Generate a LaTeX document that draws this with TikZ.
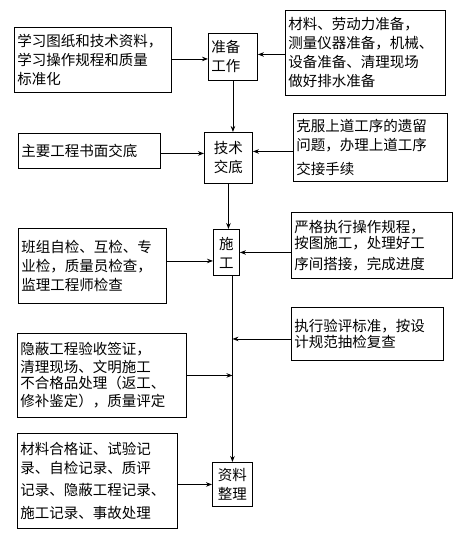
\documentclass[tikz,border=0pt]{standalone}
\usepackage{fontspec}
\newfontfamily\cjk{Noto Sans CJK SC}
\usetikzlibrary{arrows.meta}
\begin{document}
\begin{tikzpicture}[x=1pt,y=-1pt,
  box/.style={draw,line width=0.9pt,inner sep=3pt,anchor=north west,align=left,
    font=\cjk\fontsize{14.5}{19}\selectfont},
  cbox/.style={box,align=center},
  arr/.style={line width=0.9pt,-{Stealth[length=6pt,width=4.5pt]}},
  ln/.style={line width=0.9pt}]
\useasboundingbox (0,0) rectangle (462,536);
\fill[white] (0,0) rectangle (462,536);
% boxes
\node[box,text width=151pt,minimum height=65pt] (a1) at (14,27)
  {学习图纸和技术资料，\\学习操作规程和质量\\标准化};
\node[box,text width=154pt,minimum height=85pt] (r1) at (285,10)
  {材料、劳动力准备，\\测量仪器准备，机械、\\设备准备、清理现场\\做好排水准备};
\node[box,text width=43pt,minimum height=47pt] (prep) at (208,33)
  {准备\\工作};
\node[box,text width=136pt,minimum height=35pt] (l2) at (18,133)
  {主要工程书面交底\\[6pt]};
\node[cbox,text width=42pt,minimum height=51pt] (tech) at (204,132)
  {技术\\交底};
\node[box,text width=148pt,minimum height=68pt] (r2) at (293,113)
  {克服上道工序的遗留\\问题，办理上道工序\\[5pt]交接手续};
\node[box,text width=142pt,minimum height=75pt] (l3) at (18,228)
  {班组自检、互检、专\\业检，质量员检查，\\监理工程师检查};
\node[cbox,text width=20pt,minimum height=46pt] (shi) at (213,229)
  {施\\工};
\node[box,text width=155pt,minimum height=66pt] (r3) at (291,212)
  {严格执行操作规程，\\[-3pt]按图施工，处理好工\\[2pt]序间搭接，完成进度};
\node[box,text width=146pt,minimum height=53pt] (r4) at (291,307)
  {执行验评标准，按设\\[-3pt]计规范抽检复查};
\node[box,text width=163pt,minimum height=84pt] (l4) at (17,333)
  {隐蔽工程验收签证，\\[-1pt]清理现场、文明施工\\[-3pt]不合格品处理（返工、\\[-1pt]修补鉴定），质量评定};
\node[box,text width=154pt,minimum height=95pt] (l5) at (17,433)
  {材料合格证、试验记\\录、自检记录、质评\\[3pt]记录、隐蔽工程记录、\\[4pt]施工记录、事故处理};
\node[cbox,text width=34pt,minimum height=44pt] (data) at (212,462)
  {资料\\整理};
% connectors
\draw[arr] ([yshift=1pt]a1.east) -- ([yshift=1pt]prep.west |- a1.east);
\draw[arr] ([yshift=-1.5pt]r1.west) -- ([yshift=-1.5pt]prep.east |- r1.west);
\draw[arr] (prep.south) -- (tech.north -| prep.south);
\draw[arr] ([yshift=-2.5pt]l2.east) -- ([yshift=-2.5pt]tech.west |- l2.east);
\draw[arr] ([yshift=-4pt]r2.west) -- ([yshift=-4pt]tech.east |- r2.west);
\draw[arr] (tech.south) -- (shi.north -| tech.south);
\draw[arr] ([yshift=5pt]l3.east) -- ([yshift=5pt]shi.west |- l3.east);
\draw[arr] (r3.west |- shi.east) -- (shi.east);
\draw[arr] (data.north |- shi.south) -- (data.north);
\draw[arr] ([yshift=-5pt]r4.west) -- ([yshift=-5pt]r4.west -| data.north);
\draw[arr] (l4.east) -- (l4.east -| data.north);
\draw[arr] (l5.east |- data.west) -- (data.west);
\end{tikzpicture}
\end{document}
